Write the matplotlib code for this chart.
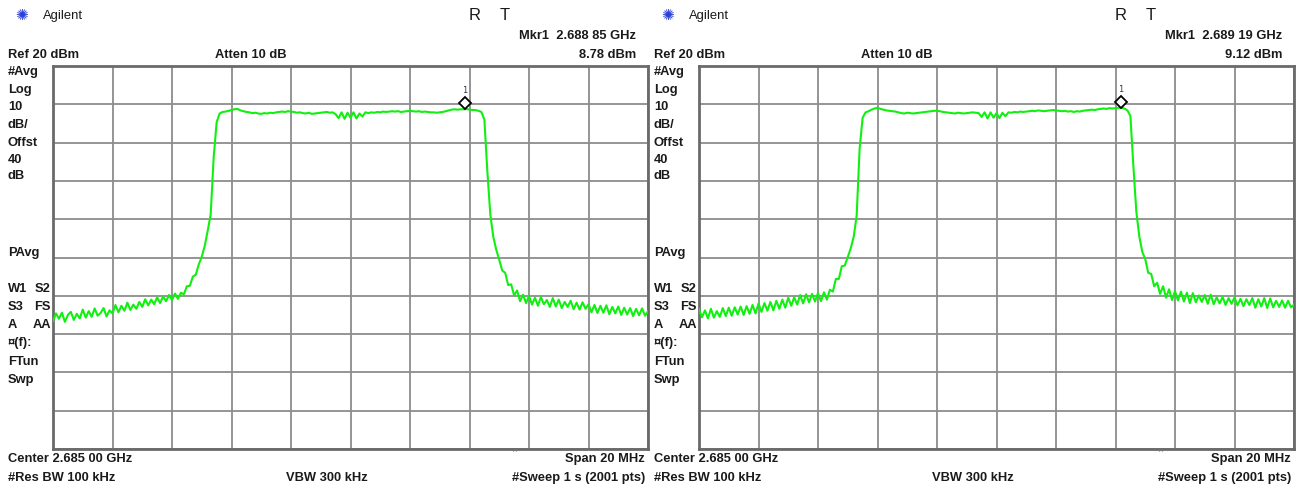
import numpy as np
import matplotlib.pyplot as plt
from matplotlib.transforms import offset_copy

plt.rcParams['font.family'] = ['Liberation Sans', 'DejaVu Sans']

W, H = 1304, 491

# analyzer settings (same on both screens)
center_mhz = 2685.0
span_mhz = 20.0
ref_dbm = 20.0
db_per_div = 10.0

left_levels = [
    -46.6, -44.6, -46.0, -44.4, -46.8, -45.0, -44.2, -46.3, -44.7, -45.9,
    -43.6, -45.7, -44.0, -45.5, -43.3, -45.2, -44.5, -43.2, -45.4, -43.8,
    -44.6, -42.4, -44.3, -42.6, -43.9, -41.8, -43.7, -42.3, -43.4, -41.6,
    -42.9, -40.9, -42.5, -41.0, -42.2, -40.4, -41.9, -40.2, -41.4, -39.8,
    -41.1, -39.4, -40.8, -39.2, -39.6, -37.5, -37.4, -35.0, -34.5, -31.8,
    -29.8, -27.0, -23.0, -18.8, -4.0, 5.3, 7.6, 8.0, 8.1, 8.3,
    8.5, 8.7, 8.8, 8.4, 8.2, 8.0, 7.9, 7.7, 7.8, 7.6,
    7.5, 7.7, 7.6, 7.8, 7.7, 7.9, 8.0, 8.1, 8.0, 8.2,
    8.1, 8.0, 7.8, 7.9, 7.7, 7.6, 7.8, 7.5, 7.6, 7.7,
    7.8, 7.9, 8.0, 7.8, 7.9, 7.4, 6.4, 7.9, 6.2, 7.8,
    6.5, 7.9, 6.3, 7.6, 6.8, 7.9, 7.7, 7.9, 7.8, 8.0,
    7.9, 8.1, 8.0, 8.1, 8.2, 8.1, 8.2, 8.0, 8.1, 8.2,
    8.3, 8.2, 8.1, 8.2, 8.0, 8.1, 8.0, 7.9, 7.9, 7.8,
    7.9, 8.0, 8.2, 8.4, 8.6, 8.7, 8.6, 8.7, 8.7, 8.78,
    8.6, 8.5, 8.5, 8.3, 8.0, 6.0, -7.5, -18.8, -24.6, -28.0,
    -30.6, -33.4, -34.0, -37.2, -37.0, -39.9, -38.6, -41.4, -39.7, -41.9,
    -40.0, -42.3, -40.5, -42.6, -40.3, -42.2, -41.1, -42.9, -40.6, -42.8,
    -41.0, -43.2, -41.6, -42.9, -41.3, -43.5, -41.8, -43.6, -41.7, -43.4,
    -42.2, -44.3, -42.4, -44.5, -42.6, -44.4, -42.5, -44.8, -42.9, -44.6,
    -42.8, -45.0, -43.1, -44.9, -43.2, -45.3, -43.4, -45.1, -43.3, -45.2, -44.0,
]

right_levels = [
    -43.5, -45.6, -43.8, -45.9, -43.4, -45.7, -44.0, -45.5, -43.2, -45.3,
    -43.1, -45.2, -43.0, -44.9, -42.8, -45.0, -42.7, -44.7, -42.4, -44.6,
    -42.0, -44.2, -41.9, -43.9, -41.6, -43.8, -41.3, -43.4, -41.0, -43.1,
    -40.5, -42.6, -40.4, -42.3, -39.8, -42.0, -39.6, -41.7, -39.5, -41.5,
    -39.3, -41.4, -39.1, -41.0, -38.4, -38.9, -35.6, -35.6, -32.3, -32.1,
    -29.9, -27.6, -24.6, -19.0, -1.5, 6.5, 7.9, 8.2, 8.6, 8.9,
    9.1, 8.8, 8.6, 8.4, 8.3, 8.2, 8.1, 7.9, 7.7, 7.6,
    7.8, 7.7, 7.6, 7.7, 7.8, 7.9, 8.0, 8.1, 8.2, 8.3,
    8.3, 8.2, 8.0, 7.9, 7.8, 7.7, 7.6, 7.8, 7.7, 7.6,
    7.7, 7.8, 7.9, 7.8, 7.7, 6.7, 7.9, 6.3, 7.9, 6.5,
    7.7, 6.4, 7.8, 6.9, 7.9, 7.8, 8.0, 7.9, 8.1, 8.0,
    8.1, 8.2, 8.3, 8.2, 8.4, 8.3, 8.2, 8.3, 8.4, 8.5,
    8.4, 8.3, 8.2, 8.3, 8.1, 8.2, 8.0, 8.2, 8.1, 8.3,
    8.4, 8.5, 8.6, 8.5, 8.7, 8.8, 8.9, 8.8, 9.0, 8.9,
    9.0, 9.1, 9.12, 8.9, 8.4, 7.0, -6.0, -18.0, -24.5, -28.5,
    -30.4, -34.0, -34.3, -37.5, -36.6, -39.5, -37.5, -40.5, -38.3, -41.1,
    -38.8, -41.2, -38.9, -41.5, -39.2, -41.9, -39.3, -41.7, -39.9, -41.6,
    -39.8, -42.1, -39.7, -42.2, -40.4, -42.0, -40.3, -42.4, -40.6, -42.1,
    -40.4, -42.5, -40.8, -42.7, -40.9, -42.4, -40.6, -43.1, -40.9, -42.8,
    -40.6, -43.2, -40.7, -43.0, -41.3, -42.9, -41.2, -43.1, -41.3, -43.0, -42.3,
]

marker_freq = [2688.85, 2689.19]
marker_level = [8.78, 9.12]
marker_freq_text = ['Mkr1  2.688 85 GHz', 'Mkr1  2.689 19 GHz']
marker_level_text = ['8.78 dBm', '9.12 dBm']

side_labels = ['#Avg', 'Log', '10', 'dB/', 'Offst', '40', 'dB']
side_y = [72, 90, 107, 125, 143, 160, 176]
lower_left = ['PAvg', 'W1', 'S3', 'A', '\u00a4(f):', 'FTun', 'Swp']
lower_right = ['', 'S2', 'FS', 'AA', '', '', '']
lower_y = [253, 289, 307, 325, 343, 362, 380]

TXT = '#1a1a1a'
GREEN = '#10f010'
FS = 9.3

fig = plt.figure(figsize=(W / 100, H / 100), dpi=100)
fig.patch.set_facecolor('white')


def put(x, y, s, **kw):
    kw.setdefault('color', TXT)
    kw.setdefault('fontsize', FS)
    kw.setdefault('va', 'center')
    fig.text(x / W, 1 - y / H, s, **kw)


def panel(dx, levels, mk_f, mk_l, mk_ftxt, mk_ltxt):
    ax = fig.add_axes([(53 + dx) / W, 1 - 449 / H, 595 / W, 383 / H])
    freqs = np.linspace(center_mhz - span_mhz / 2, center_mhz + span_mhz / 2, len(levels))
    ax.plot(freqs, levels, color=GREEN, lw=1.5, zorder=3)

    ax.set_xlim(center_mhz - span_mhz / 2, center_mhz + span_mhz / 2)
    ax.set_ylim(ref_dbm - 10 * db_per_div, ref_dbm)
    ax.set_xticks(np.linspace(center_mhz - span_mhz / 2, center_mhz + span_mhz / 2, 11))
    ax.set_yticks(np.linspace(ref_dbm - 10 * db_per_div, ref_dbm, 11))
    ax.grid(True, color='#8c8c8c', lw=1.3)
    ax.tick_params(length=0, labelbottom=False, labelleft=False)
    for sp in ax.spines.values():
        sp.set_color('#6a6a6a')
        sp.set_linewidth(2)

    # marker diamond sits just above the trace point
    tr = offset_copy(ax.transData, fig=fig, x=0, y=6, units='dots')
    ax.plot([mk_f], [mk_l], marker='D', ms=6, mfc='white', mec='black', mew=1.3,
            transform=tr, zorder=4, clip_on=False)
    tr2 = offset_copy(ax.transData, fig=fig, x=0, y=18, units='dots')
    ax.text(mk_f, mk_l, '1', transform=tr2, fontsize=6, ha='center', va='center',
            color='#333344', family='DejaVu Sans Mono')

    # header
    put(dx + 22, 16, '\u273a', color='#2a3fd8', fontsize=11, ha='center', family='DejaVu Sans')
    put(dx + 43, 16, 'Agilent', fontsize=9.4)
    put(dx + 475, 16, 'R', fontsize=12, ha='center')
    put(dx + 505, 16, 'T', fontsize=12, ha='center')
    put(dx + 636, 36, mk_ftxt, ha='right', weight='bold')
    put(dx + 636, 55, mk_ltxt, ha='right', weight='bold')
    put(dx + 8, 55, 'Ref 20 dBm', weight='bold')
    put(dx + 251, 55, 'Atten 10 dB', ha='center', weight='bold')

    # left-hand annotations
    for s, y in zip(side_labels, side_y):
        put(dx + 8, y, s, weight='bold')
    for s1, s2, y in zip(lower_left, lower_right, lower_y):
        put(dx + 8, y, s1, weight='bold')
        if s2:
            put(dx + 51, y, s2, ha='right', weight='bold')

    # footer
    put(dx + 8, 459, 'Center 2.685 00 GHz', weight='bold')
    put(dx + 645, 459, 'Span 20 MHz', ha='right', weight='bold')
    put(dx + 8, 478, '#Res BW 100 kHz', weight='bold')
    put(dx + 327, 478, 'VBW 300 kHz', ha='center', weight='bold')
    put(dx + 645, 478, '#Sweep 1 s (2001 pts)', ha='right', weight='bold')
    put(dx + 515, 453, '^', fontsize=6, ha='center', color='#777777')
    return ax


panel(0, left_levels, marker_freq[0], marker_level[0], marker_freq_text[0], marker_level_text[0])
panel(646, right_levels, marker_freq[1], marker_level[1], marker_freq_text[1], marker_level_text[1])

fig.savefig('out.png', dpi=100, facecolor='white')
